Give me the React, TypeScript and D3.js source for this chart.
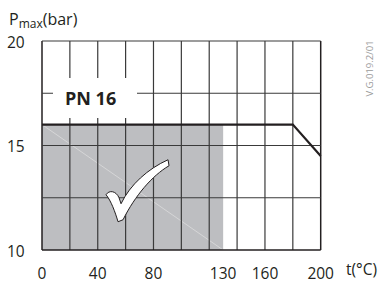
import React from "react";
import * as d3 from "d3";

const gridT = [0, 20, 40, 60, 80, 100, 120, 140, 160, 180, 200];
const gridP = [10, 12.5, 15, 17.5, 20];
const xTickLabels = [0, 40, 80, 130, 160, 200];
const yTickLabels = [10, 15, 20];
const limitT = [0, 180, 200];
const limitP = [16, 16, 14.5];
const shadeT = [0, 130];
const shadeP = [10, 16];

const W = 383;
const H = 282;
const FONT = "'Open Sans', 'Noto Sans', sans-serif";

export default function App() {
  const x = d3.scaleLinear().domain([0, 200]).range([42, 320.7]);
  const y = d3.scaleLinear().domain([10, 20]).range([250, 41]);

  const line = d3
    .line<number>()
    .x((_, i) => x(limitT[i]))
    .y((d) => y(d));

  const sx0 = x(shadeT[0]);
  const sx1 = x(shadeT[1]);
  const sy0 = y(shadeP[1]);
  const sy1 = y(shadeP[0]);

  const checkPath =
    "M-14,-26 C-11,-31 -4,-30 -1,-23 L1,-17 C10,-36 28,-52 48,-61 L49,-55 C32,-45 15,-25 3,-1 L-2,1 C-5,-9 -9,-20 -14,-26 Z";

  const gridColor = "#3a3a3a";

  return (
    <svg
      width={W}
      height={H}
      style={{ position: "absolute", left: 0, top: 0, background: "#fff" }}
    >
      {/* shaded region */}
      <rect x={sx0} y={sy0} width={sx1 - sx0} height={sy1 - sy0} fill="#bdbec1" />
      <line x1={sx0} y1={sy0} x2={sx1} y2={sy1} stroke="#e6e6e6" strokeWidth={0.6} />

      {/* grid */}
      {gridT.map((t) => (
        <line
          key={"gx" + t}
          x1={x(t)}
          x2={x(t)}
          y1={y(10)}
          y2={y(20)}
          stroke={t === 0 || t === 200 ? "#231f20" : gridColor}
          strokeWidth={t === 0 || t === 200 ? 1.5 : 1.2}
        />
      ))}
      {gridP.map((p) => (
        <line
          key={"gy" + p}
          x1={x(0)}
          x2={x(200)}
          y1={y(p)}
          y2={y(p)}
          stroke={p === 10 ? "#231f20" : gridColor}
          strokeWidth={p === 10 ? 1.5 : 1.2}
        />
      ))}

      {/* PN label box */}
      <rect x={53} y={78} width={84} height={40} fill="#fff" />
      <text x={65} y={105} fontFamily={FONT} fontWeight={700} fontSize={18} fill="#231f20">
        PN 16
      </text>

      {/* limit line */}
      <path d={line(limitP) || ""} fill="none" stroke="#231f20" strokeWidth={2.2} />

      {/* check mark */}
      <path
        d={checkPath}
        transform={`translate(${x(56)},${y(11.4)})`}
        fill="#fff"
        stroke="#231f20"
        strokeWidth={1}
        strokeLinejoin="round"
      />

      {/* y tick labels */}
      {yTickLabels.map((p) => (
        <text
          key={"yl" + p}
          x={7}
          y={y(p) + 6.5}
          fontFamily={FONT}
          fontSize={15.5}
          fill="#231f20"
        >
          {p}
        </text>
      ))}

      {/* x tick labels */}
      {xTickLabels.map((t) => (
        <text
          key={"xl" + t}
          x={x(t)}
          y={278.5}
          textAnchor="middle"
          fontFamily={FONT}
          fontSize={15.5}
          fill="#231f20"
        >
          {t}
        </text>
      ))}

      {/* axis titles */}
      <text x={9} y={25} fontFamily={FONT} fontSize={16} fill="#231f20">
        P
        <tspan fontSize={12} dy={3}>
          max
        </tspan>
        <tspan dy={-3}>(bar)</tspan>
      </text>
      <text x={346} y={275} fontFamily={FONT} fontSize={15.5} fill="#231f20">
        t(°C)
      </text>

      {/* drawing code */}
      <text
        transform="translate(373,68.5) rotate(-90)"
        textAnchor="middle"
        fontFamily={FONT}
        fontSize={9.5}
        fill="#9a9a9a"
      >
        V.G.019.2/01
      </text>
    </svg>
  );
}
